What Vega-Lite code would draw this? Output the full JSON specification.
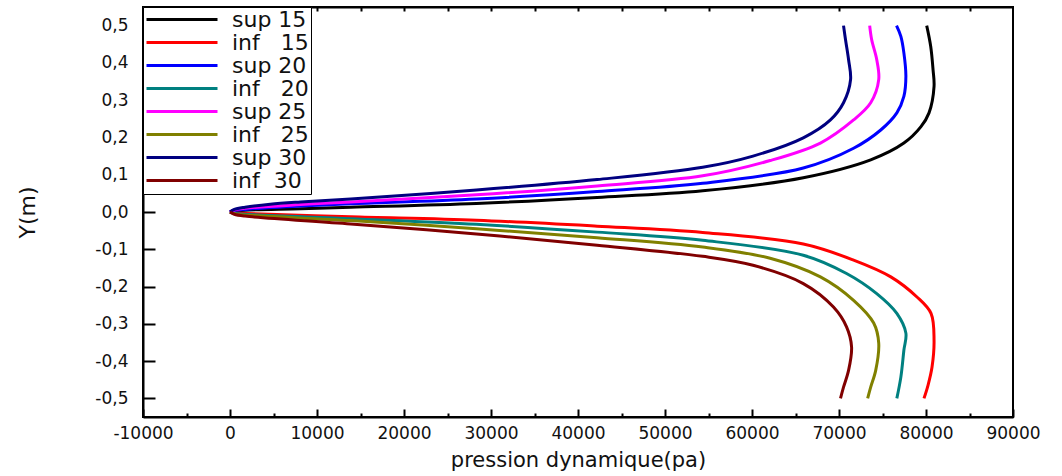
{
  "$schema": "https://vega.github.io/schema/vega-lite/v6.json",
  "width": 870,
  "height": 410,
  "autosize": {"type": "none"},
  "padding": {"left": 143, "top": 7, "right": 49, "bottom": 59},
  "background": "white",
  "config": {
    "font": "DejaVu Sans",
    "view": {"stroke": "black", "strokeWidth": 2},
    "axis": {"grid": false, "domainColor": "black", "domainWidth": 2, "tickColor": "black", "tickWidth": 2, "labelColor": "#111", "titleColor": "#111", "labelFont": "DejaVu Sans", "titleFont": "DejaVu Sans", "titleFontWeight": "normal", "labelOverlap": false, "labelFlush": false, "labelBound": false, "zindex": 1}
  },
  "data": {"values": [
    {"s": "sup 15", "v": 0, "y": 0}, {"s": "sup 15", "v": 500, "y": 0.0027}, {"s": "sup 15", "v": 1734, "y": 0.005}, {"s": "sup 15", "v": 8092, "y": 0.009}, {"s": "sup 15", "v": 13873, "y": 0.013}, {"s": "sup 15", "v": 28324, "y": 0.023}, {"s": "sup 15", "v": 42197, "y": 0.039}, {"s": "sup 15", "v": 54335, "y": 0.057}, {"s": "sup 15", "v": 65896, "y": 0.092}, {"s": "sup 15", "v": 73642, "y": 0.140}, {"s": "sup 15", "v": 77457, "y": 0.185}, {"s": "sup 15", "v": 79422, "y": 0.229}, {"s": "sup 15", "v": 80347, "y": 0.266}, {"s": "sup 15", "v": 80925, "y": 0.337}, {"s": "sup 15", "v": 80809, "y": 0.382}, {"s": "sup 15", "v": 80543, "y": 0.444}, {"s": "sup 15", "v": 80081, "y": 0.5},
    {"s": "inf\u00a0\u00a0\u00a015", "v": 0, "y": 0}, {"s": "inf\u00a0\u00a0\u00a015", "v": 500, "y": -0.0022}, {"s": "inf\u00a0\u00a0\u00a015", "v": 1734, "y": -0.004}, {"s": "inf\u00a0\u00a0\u00a015", "v": 13873, "y": -0.013}, {"s": "inf\u00a0\u00a0\u00a015", "v": 28324, "y": -0.022}, {"s": "inf\u00a0\u00a0\u00a015", "v": 42197, "y": -0.038}, {"s": "inf\u00a0\u00a0\u00a015", "v": 54335, "y": -0.055}, {"s": "inf\u00a0\u00a0\u00a015", "v": 65896, "y": -0.086}, {"s": "inf\u00a0\u00a0\u00a015", "v": 71676, "y": -0.129}, {"s": "inf\u00a0\u00a0\u00a015", "v": 75954, "y": -0.174}, {"s": "inf\u00a0\u00a0\u00a015", "v": 78960, "y": -0.228}, {"s": "inf\u00a0\u00a0\u00a015", "v": 80578, "y": -0.272}, {"s": "inf\u00a0\u00a0\u00a015", "v": 80925, "y": -0.344}, {"s": "inf\u00a0\u00a0\u00a015", "v": 80694, "y": -0.416}, {"s": "inf\u00a0\u00a0\u00a015", "v": 80231, "y": -0.465}, {"s": "inf\u00a0\u00a0\u00a015", "v": 79769, "y": -0.5},
    {"s": "sup 20", "v": 0, "y": 0}, {"s": "sup 20", "v": 500, "y": 0.0038}, {"s": "sup 20", "v": 1734, "y": 0.007}, {"s": "sup 20", "v": 8092, "y": 0.016}, {"s": "sup 20", "v": 13873, "y": 0.022}, {"s": "sup 20", "v": 28324, "y": 0.035}, {"s": "sup 20", "v": 42197, "y": 0.055}, {"s": "sup 20", "v": 54335, "y": 0.077}, {"s": "sup 20", "v": 65896, "y": 0.118}, {"s": "sup 20", "v": 71676, "y": 0.171}, {"s": "sup 20", "v": 74798, "y": 0.220}, {"s": "sup 20", "v": 76647, "y": 0.266}, {"s": "sup 20", "v": 77457, "y": 0.310}, {"s": "sup 20", "v": 77688, "y": 0.364}, {"s": "sup 20", "v": 77457, "y": 0.427}, {"s": "sup 20", "v": 77110, "y": 0.471}, {"s": "sup 20", "v": 76613, "y": 0.5},
    {"s": "inf\u00a0\u00a0\u00a020", "v": 0, "y": 0}, {"s": "inf\u00a0\u00a0\u00a020", "v": 500, "y": -0.0032}, {"s": "inf\u00a0\u00a0\u00a020", "v": 1734, "y": -0.006}, {"s": "inf\u00a0\u00a0\u00a020", "v": 13873, "y": -0.018}, {"s": "inf\u00a0\u00a0\u00a020", "v": 28324, "y": -0.033}, {"s": "inf\u00a0\u00a0\u00a020", "v": 42197, "y": -0.054}, {"s": "inf\u00a0\u00a0\u00a020", "v": 54335, "y": -0.076}, {"s": "inf\u00a0\u00a0\u00a020", "v": 65896, "y": -0.116}, {"s": "inf\u00a0\u00a0\u00a020", "v": 70867, "y": -0.165}, {"s": "inf\u00a0\u00a0\u00a020", "v": 74335, "y": -0.219}, {"s": "inf\u00a0\u00a0\u00a020", "v": 76647, "y": -0.272}, {"s": "inf\u00a0\u00a0\u00a020", "v": 77688, "y": -0.325}, {"s": "inf\u00a0\u00a0\u00a020", "v": 77457, "y": -0.371}, {"s": "inf\u00a0\u00a0\u00a020", "v": 77110, "y": -0.443}, {"s": "inf\u00a0\u00a0\u00a020", "v": 76647, "y": -0.5},
    {"s": "sup 25", "v": 0, "y": 0}, {"s": "sup 25", "v": 500, "y": 0.0054}, {"s": "sup 25", "v": 1734, "y": 0.010}, {"s": "sup 25", "v": 8092, "y": 0.020}, {"s": "sup 25", "v": 13873, "y": 0.027}, {"s": "sup 25", "v": 28324, "y": 0.046}, {"s": "sup 25", "v": 42197, "y": 0.070}, {"s": "sup 25", "v": 54335, "y": 0.097}, {"s": "sup 25", "v": 62081, "y": 0.138}, {"s": "sup 25", "v": 67861, "y": 0.185}, {"s": "sup 25", "v": 71676, "y": 0.247}, {"s": "sup 25", "v": 73642, "y": 0.293}, {"s": "sup 25", "v": 74566, "y": 0.355}, {"s": "sup 25", "v": 74335, "y": 0.409}, {"s": "sup 25", "v": 73757, "y": 0.462}, {"s": "sup 25", "v": 73526, "y": 0.5},
    {"s": "inf\u00a0\u00a0\u00a025", "v": 0, "y": 0}, {"s": "inf\u00a0\u00a0\u00a025", "v": 500, "y": -0.0043}, {"s": "inf\u00a0\u00a0\u00a025", "v": 1734, "y": -0.008}, {"s": "inf\u00a0\u00a0\u00a025", "v": 13873, "y": -0.023}, {"s": "inf\u00a0\u00a0\u00a025", "v": 28324, "y": -0.045}, {"s": "inf\u00a0\u00a0\u00a025", "v": 42197, "y": -0.069}, {"s": "inf\u00a0\u00a0\u00a025", "v": 54335, "y": -0.094}, {"s": "inf\u00a0\u00a0\u00a025", "v": 62081, "y": -0.124}, {"s": "inf\u00a0\u00a0\u00a025", "v": 67861, "y": -0.174}, {"s": "inf\u00a0\u00a0\u00a025", "v": 71676, "y": -0.237}, {"s": "inf\u00a0\u00a0\u00a025", "v": 73988, "y": -0.298}, {"s": "inf\u00a0\u00a0\u00a025", "v": 74566, "y": -0.352}, {"s": "inf\u00a0\u00a0\u00a025", "v": 74220, "y": -0.425}, {"s": "inf\u00a0\u00a0\u00a025", "v": 73642, "y": -0.470}, {"s": "inf\u00a0\u00a0\u00a025", "v": 73295, "y": -0.5},
    {"s": "sup 30", "v": 0, "y": 0}, {"s": "sup 30", "v": 500, "y": 0.007}, {"s": "sup 30", "v": 1734, "y": 0.013}, {"s": "sup 30", "v": 4624, "y": 0.021}, {"s": "sup 30", "v": 8092, "y": 0.027}, {"s": "sup 30", "v": 13873, "y": 0.035}, {"s": "sup 30", "v": 28324, "y": 0.059}, {"s": "sup 30", "v": 42197, "y": 0.087}, {"s": "sup 30", "v": 54335, "y": 0.120}, {"s": "sup 30", "v": 60116, "y": 0.150}, {"s": "sup 30", "v": 65896, "y": 0.199}, {"s": "sup 30", "v": 69017, "y": 0.247}, {"s": "sup 30", "v": 70520, "y": 0.293}, {"s": "sup 30", "v": 71329, "y": 0.355}, {"s": "sup 30", "v": 71098, "y": 0.409}, {"s": "sup 30", "v": 70751, "y": 0.462}, {"s": "sup 30", "v": 70520, "y": 0.5},
    {"s": "inf\u00a0\u00a030", "v": 0, "y": 0}, {"s": "inf\u00a0\u00a030", "v": 500, "y": -0.006}, {"s": "inf\u00a0\u00a030", "v": 1734, "y": -0.011}, {"s": "inf\u00a0\u00a030", "v": 13873, "y": -0.032}, {"s": "inf\u00a0\u00a030", "v": 28324, "y": -0.059}, {"s": "inf\u00a0\u00a030", "v": 42197, "y": -0.089}, {"s": "inf\u00a0\u00a030", "v": 54335, "y": -0.119}, {"s": "inf\u00a0\u00a030", "v": 60116, "y": -0.143}, {"s": "inf\u00a0\u00a030", "v": 65896, "y": -0.192}, {"s": "inf\u00a0\u00a030", "v": 69364, "y": -0.255}, {"s": "inf\u00a0\u00a030", "v": 70867, "y": -0.308}, {"s": "inf\u00a0\u00a030", "v": 71445, "y": -0.362}, {"s": "inf\u00a0\u00a030", "v": 71098, "y": -0.425}, {"s": "inf\u00a0\u00a030", "v": 70520, "y": -0.470}, {"s": "inf\u00a0\u00a030", "v": 70173, "y": -0.5}
  ]},
  "layer": [
    {
      "mark": {"type": "line", "strokeWidth": 3, "interpolate": "catmull-rom"},
      "encoding": {
        "x": {"field": "v", "type": "quantitative",
          "scale": {"domain": [-10000, 90000], "nice": false, "zero": false},
          "axis": {"orient": "bottom", "values": [-10000, -5000, 0, 5000, 10000, 15000, 20000, 25000, 30000, 35000, 40000, 45000, 50000, 55000, 60000, 65000, 70000, 75000, 80000, 85000, 90000],
            "labelExpr": "abs(datum.value % 10000) > 1 ? '' : (datum.value < 0 ? '-' : '') + format(abs(datum.value), 'd')",
            "tickSize": {"condition": {"test": "abs(datum.value % 10000) > 1", "value": -4}, "value": -8},
            "labelPadding": 16, "labelFontSize": 17, "title": "pression dynamique(pa)", "titleFontSize": 21, "titlePadding": 4}},
        "y": {"field": "y", "type": "quantitative",
          "scale": {"domain": [-0.55, 0.55], "nice": false, "zero": false},
          "axis": {"values": [-0.5, -0.4, -0.3, -0.2, -0.1, 0, 0.1, 0.2, 0.3, 0.4, 0.5],
            "labelExpr": "(datum.value < -0.001 ? '-' : '') + replace(format(abs(datum.value), '.1f'), '.', ',')",
            "tickSize": -12, "labelPadding": 27, "labelFontSize": 17, "title": "Y(m)", "titleFontSize": 22, "titlePadding": 55}},
        "color": {"field": "s", "type": "nominal",
          "scale": {"domain": ["sup 15", "inf\u00a0\u00a0\u00a015", "sup 20", "inf\u00a0\u00a0\u00a020", "sup 25", "inf\u00a0\u00a0\u00a025", "sup 30", "inf\u00a0\u00a030"],
            "range": ["#000000", "#FF0000", "#0000FF", "#008080", "#FF00FF", "#808000", "#000080", "#800000"]},
          "legend": {"orient": "none", "legendX": 0, "legendY": 0, "title": null, "symbolType": "stroke", "symbolSize": 5041, "symbolStrokeWidth": 3, "labelFont": "DejaVu Sans", "labelFontSize": 22, "labelColor": "#111", "labelOffset": 13, "clipHeight": 21, "rowPadding": 0, "padding": 2, "strokeColor": "black", "fillColor": "white", "labelLimit": 300, "zindex": 2}},
        "order": {"field": "y", "type": "quantitative"}
      }
    },
    {
      "mark": {"type": "line", "strokeOpacity": 0},
      "encoding": {
        "x": {"field": "v", "type": "quantitative",
          "axis": {"orient": "top", "values": [-5000, 0, 5000, 10000, 15000, 20000, 25000, 30000, 35000, 40000, 45000, 50000, 55000, 60000, 65000, 70000, 75000, 80000, 85000], "labels": false, "tickSize": -4, "title": null}}
      }
    }
  ],
  "resolve": {"axis": {"x": "independent"}}
}
